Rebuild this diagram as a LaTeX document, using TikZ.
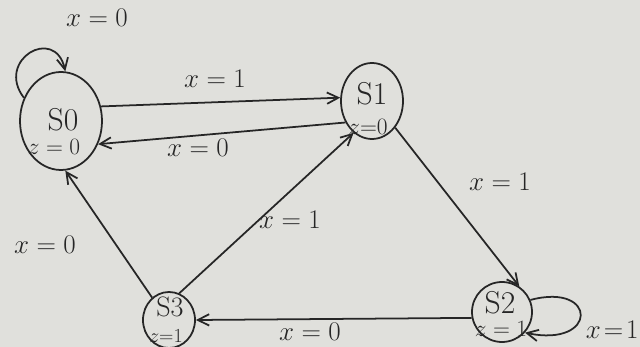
\RequirePackage{fix-cm}
\documentclass[tikz,border=0pt]{standalone}
\usetikzlibrary{shapes.geometric,arrows.meta}
\definecolor{paper}{RGB}{224,224,220}
\definecolor{ink}{RGB}{38,38,38}
\begin{document}
\begin{tikzpicture}[x=0.03cm,y=-0.03cm,
  inkline/.style={draw=ink, line width=1.5pt},
  state/.style={ellipse, inkline, inner sep=0pt},
  tr/.style={inkline, -{Straight Barb[length=3.4mm,width=3.4mm]}},
  lbl/.style={font=\fontsize{23}{26}\selectfont, text=ink, inner sep=1pt},
  sname/.style={font=\fontsize{27}{30}\selectfont, text=ink, inner sep=0pt},
  zout/.style={font=\fontsize{20}{22}\selectfont, text=ink, inner sep=0pt}]
\fill[paper] (0,0) rectangle (640,347);
\useasboundingbox (0,0) rectangle (640,347);
% states
\node[state, minimum width=2.46cm, minimum height=2.94cm] (s0) at (61,121) {};
\node[state, minimum width=1.86cm, minimum height=2.28cm] (s1) at (372,101) {};
\node[state, minimum width=1.80cm, minimum height=1.80cm] (s2) at (502,312) {};
\node[state, minimum width=1.56cm, minimum height=1.68cm] (s3) at (169,320) {};
% state texts
\node[sname] (n0) at (63,120) {S0};
\node[zout] (z0) at (54,147) {$z = 0$};
\node[sname] (n1) at (372,94) {S1};
\node[zout] (z1) at (368,127) {$z{=}0$};
\node[sname] (n2) at (500,303) {S2};
\node[zout] (z2) at (501,329) {$z = 1$};
\node[sname, font=\fontsize{24}{26}\selectfont] (n3) at (170,307) {S3};
\node[zout, font=\fontsize{17}{19}\selectfont] (z3) at (166,336) {$z{=}1$};
% transitions
\draw[tr] (s0.148) .. controls (-5,60) and (55,25) .. (s0.85);
\node[lbl] (l00) at (97,18) {$x=0$};
\draw[tr] (s0.20) -- (s1.174);
\node[lbl] (l01) at (215,79) {$x=1$};
\draw[tr] (s1.-141) -- (s0.-32);
\node[lbl] (l10) at (198,148) {$x=0$};
\draw[tr] (s1.-49) -- (s2.56);
\node[lbl] (l12) at (500,182) {$x=1$};
\draw[tr] (s3.69) -- (s1.-120);
\node[lbl] (l31) at (290,220) {$x=1$};
\draw[tr] (s2.191) -- (s3.0);
\node[lbl] (l23) at (310,332) {$x=0$};
\draw[tr] (s3.127) -- (s0.-85);
\node[lbl] (l30) at (45,245) {$x=0$};
\draw[tr] (s2.23) .. controls (598,282) and (598,348) .. (s2.-42);
\node[lbl, anchor=east] (l22) at (640,330) {$x\!=\!1$};
\end{tikzpicture}
\end{document}
